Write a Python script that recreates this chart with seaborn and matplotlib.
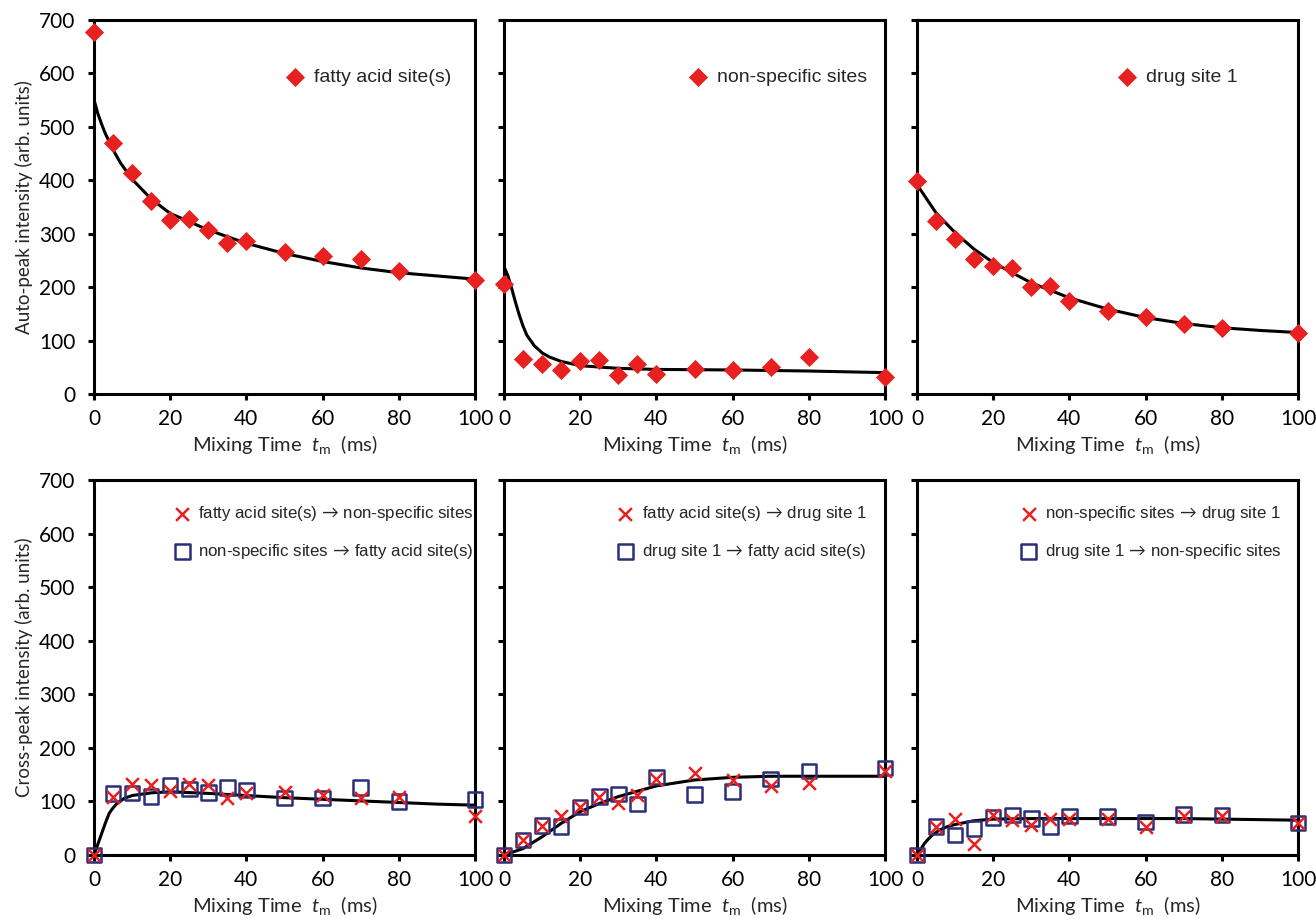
import numpy as np
import pandas as pd
import matplotlib
matplotlib.use("Agg")
import matplotlib.pyplot as plt
import seaborn as sns

# ---------------- data ----------------
t = [0, 5, 10, 15, 20, 25, 30, 35, 40, 50, 60, 70, 80, 100]

# auto peaks
auto_fatty = [677, 469, 413, 362, 326, 327, 307, 283, 287, 265, 258, 252, 231, 214]
auto_nonspec = [206, 65, 57, 45, 62, 63, 36, 57, 37, 46, 45, 51, 70, 32]
auto_drug = [398, 324, 291, 252, 240, 235, 201, 202, 174, 156, 145, 131, 124, 115]

# fit curves
fit_t_fatty = [0, 1, 2, 3, 5, 7, 10, 15, 20, 30, 40, 50, 60, 70, 80, 90, 100]
fit_fatty = [551, 525, 505, 487, 457, 432, 402, 365, 338, 307, 282, 263, 248, 236, 227, 221, 215]
fit_t_nonspec = [0, 1, 2, 3, 4, 5, 6, 8, 10, 12, 15, 20, 30, 40, 60, 80, 100]
fit_nonspec = [238, 222, 198, 172, 148, 127, 110, 90, 77, 69, 61, 53, 48, 46, 45, 43, 40]
fit_t_drug = [0, 5, 10, 15, 20, 30, 40, 50, 60, 70, 80, 90, 100]
fit_drug = [392, 339, 302, 271, 246, 208, 180, 159, 143, 132, 124, 119, 115]

# cross peaks
fa_to_ns = [0, 109, 133, 131, 120, 132, 131, 107, 115, 117, 112, 106, 109, 73]
ns_to_fa = [0, 115, 116, 109, 131, 123, 117, 126, 121, 106, 106, 126, 100, 104]
fa_to_d1 = [0, 28, 55, 72, 90, 109, 98, 112, 141, 154, 140, 129, 134, 157]
d1_to_fa = [0, 28, 55, 53, 90, 109, 114, 95, 146, 113, 119, 142, 157, 162]
ns_to_d1 = [0, 53, 68, 21, 75, 65, 56, 68, 67, 68, 53, 73, 73, 60]
d1_to_ns = [0, 53, 37, 49, 70, 75, 68, 53, 73, 72, 62, 76, 75, 60]

fit_t_c1 = [0, 1, 2, 3, 4, 5, 6, 8, 10, 15, 20, 30, 40, 50, 60, 70, 80, 90, 100]
fit_c1 = [0, 20, 40, 60, 78, 88, 96, 106, 111, 116, 118, 115, 111, 107, 104, 101, 98, 95, 93]
fit_t_c2 = [0, 5, 10, 15, 20, 25, 30, 40, 50, 60, 70, 80, 90, 100]
fit_c2 = [0, 12, 34, 59, 81, 96, 109, 129, 140, 145, 147, 147, 147, 147]
fit_t_c3 = [0, 1, 2, 3, 4, 6, 8, 10, 15, 20, 30, 50, 70, 100]
fit_c3 = [0, 11, 22, 30, 37, 47, 53, 57, 64, 67, 68, 68, 68, 65]

ARROW = r"$\,\rightarrow\,$"
auto_labels = ["fatty acid site(s)", "non-specific sites", "drug site 1"]
cross_labels = [
    (f"fatty acid site(s){ARROW}non-specific sites", f"non-specific sites{ARROW}fatty acid site(s)"),
    (f"fatty acid site(s){ARROW}drug site 1", f"drug site 1{ARROW}fatty acid site(s)"),
    (f"non-specific sites{ARROW}drug site 1", f"drug site 1{ARROW}non-specific sites"),
]
xticks = [0, 20, 40, 60, 80, 100]
yticks = [0, 100, 200, 300, 400, 500, 600, 700]

# ---------------- style ----------------
sns.set_style("ticks")
plt.rcParams['font.family'] = ['Lato', 'DejaVu Sans']
plt.rcParams['mathtext.fontset'] = 'custom'
plt.rcParams['mathtext.rm'] = 'Lato'
plt.rcParams['mathtext.it'] = 'Lato:italic'

RED = '#e8201f'
NAVY = '#2a2f78'

fig = plt.figure(figsize=(13.16, 9.19), dpi=100)
lefts = [94 / 1316, 504 / 1316, 917 / 1316]
w = 381 / 1316
top_b, top_h = 1 - 394 / 919, 374 / 919
bot_b, bot_h = 1 - 855 / 919, 375 / 919

xlabel = "Mixing Time  $t_{\\mathrm{m}}$  (ms)"
leg_font = {'family': ['Liberation Sans', 'DejaVu Sans'], 'size': 14}
leg_font_c = {'family': ['Liberation Sans', 'DejaVu Sans'], 'size': 12.2}


def style_ax(ax, show_y):
    ax.set_xlim(0, 100)
    ax.set_ylim(0, 700)
    ax.set_xticks(xticks)
    ax.set_yticks(yticks)
    for s in ax.spines.values():
        s.set_linewidth(2.2)
        s.set_color('black')
        s.set_visible(True)
    ax.tick_params(axis='both', direction='out', length=4.5, width=2.2,
                   labelsize=15, colors='black')
    ax.tick_params(axis='y', pad=9)
    ax.tick_params(axis='x', pad=6)
    if not show_y:
        ax.set_yticklabels([])
    ax.set_xlabel(xlabel, fontsize=14.5, labelpad=3)


auto_data = [auto_fatty, auto_nonspec, auto_drug]
auto_fits = [(fit_t_fatty, fit_fatty), (fit_t_nonspec, fit_nonspec), (fit_t_drug, fit_drug)]
auto_leg_x = [0.53, 0.511, 0.553]

for i in range(3):
    ax = fig.add_axes([lefts[i], top_b, w, top_h])
    ft, fy = auto_fits[i]
    sns.lineplot(x=ft, y=fy, ax=ax, color='black', lw=2.2, zorder=2)
    sns.scatterplot(x=t, y=auto_data[i], ax=ax, marker='D', s=95, color=RED,
                    edgecolor=RED, linewidth=0, label=auto_labels[i],
                    clip_on=False, zorder=3)
    style_ax(ax, i == 0)
    if i == 0:
        ax.set_ylabel("Auto-peak intensity (arb. units)", fontsize=13.5, labelpad=4)
    else:
        ax.set_ylabel("")
    ax.legend(loc='center left', bbox_to_anchor=(auto_leg_x[i] - 0.022, 0.848),
              frameon=False, prop=leg_font, handlelength=0.8, handletextpad=0.55,
              borderpad=0, borderaxespad=0)

cross_data = [(fa_to_ns, ns_to_fa), (fa_to_d1, d1_to_fa), (ns_to_d1, d1_to_ns)]
cross_fits = [(fit_t_c1, fit_c1), (fit_t_c2, fit_c2), (fit_t_c3, fit_c3)]
cross_leg_x = [0.234, 0.321, 0.295]

for i in range(3):
    ax = fig.add_axes([lefts[i], bot_b, w, bot_h])
    ft, fy = cross_fits[i]
    sns.lineplot(x=ft, y=fy, ax=ax, color='black', lw=2.2, zorder=2)
    a, b = cross_data[i]
    sns.scatterplot(x=t, y=a, ax=ax, marker='x', s=85, color=RED, linewidth=1.8,
                    label=cross_labels[i][0], clip_on=False, zorder=4)
    sns.scatterplot(x=t, y=b, ax=ax, marker='s', s=110, color=NAVY, facecolor='none',
                    edgecolor=NAVY, linewidth=1.8, label=cross_labels[i][1],
                    clip_on=False, zorder=3)
    style_ax(ax, i == 0)
    if i == 0:
        ax.set_ylabel("Cross-peak intensity (arb. units)", fontsize=13.5, labelpad=4)
    else:
        ax.set_ylabel("")
    ax.legend(loc='upper left', bbox_to_anchor=(cross_leg_x[i] - 0.02, 0.935),
              frameon=False, prop=leg_font_c, handlelength=0.8, handletextpad=0.55,
              borderpad=0, borderaxespad=0, labelspacing=1.1)

fig.savefig("out.png", dpi=100)
